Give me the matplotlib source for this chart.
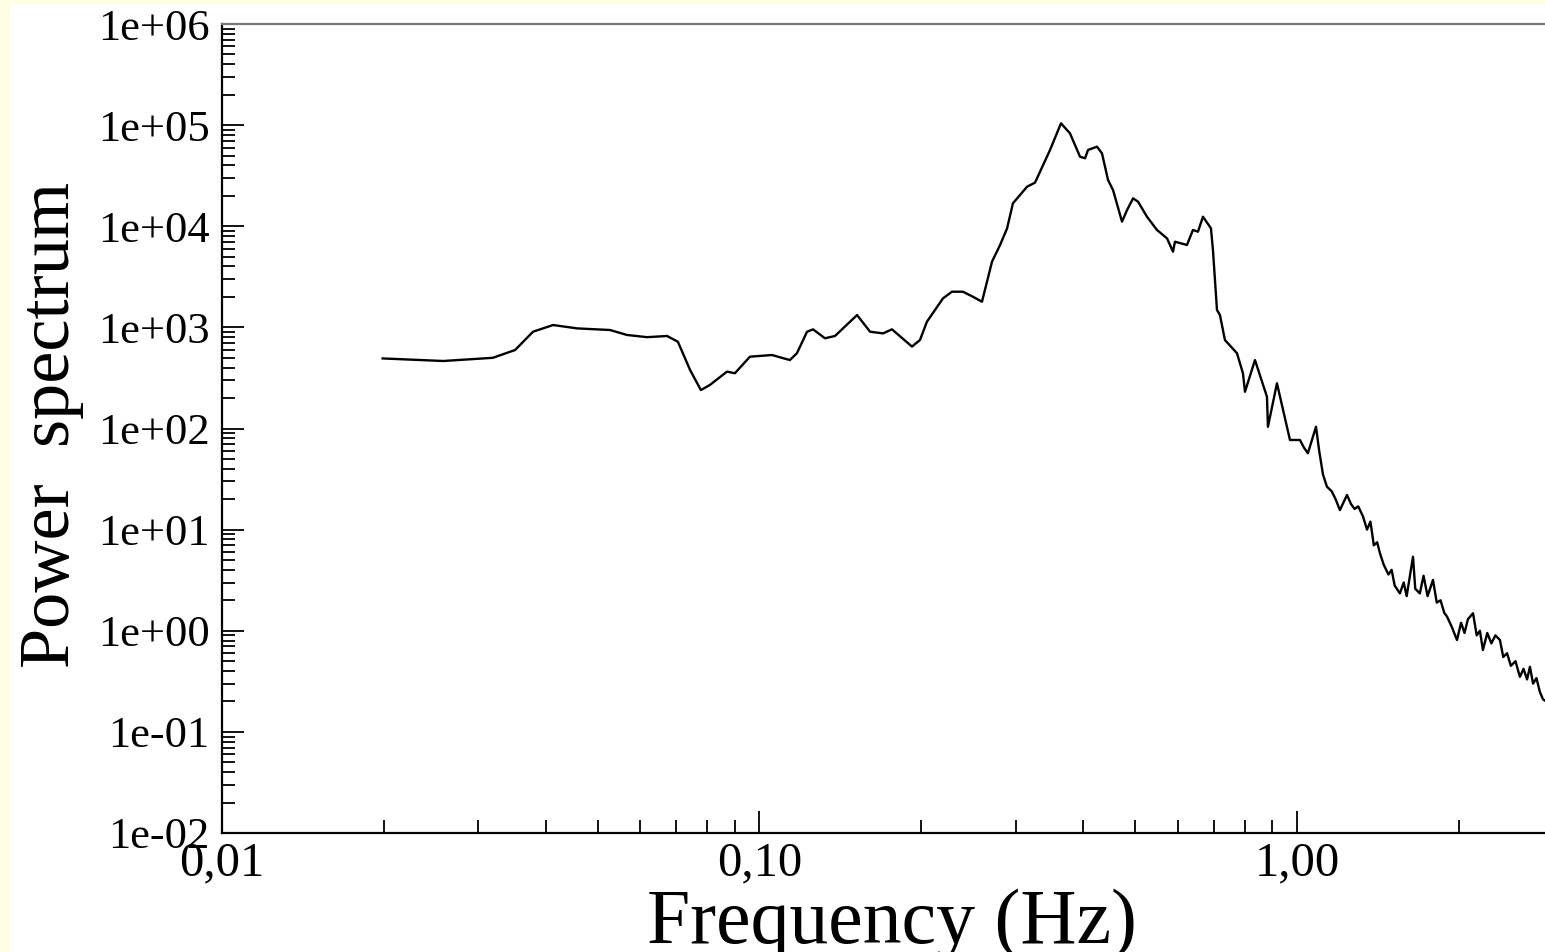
import matplotlib
matplotlib.use("Agg")
import matplotlib.pyplot as plt
from matplotlib.patches import Rectangle
from matplotlib.ticker import LogLocator, FuncFormatter, NullFormatter

plt.rcParams['font.family'] = ['Liberation Serif', 'DejaVu Serif']

# frequency (Hz) and power
freq = [0.0199, 0.0258, 0.0319, 0.0351, 0.0379, 0.0413, 0.0458, 0.0527, 0.0567,
        0.0618, 0.0673, 0.0705, 0.0743, 0.0778, 0.0809, 0.0870, 0.0900, 0.0960,
        0.1055, 0.1139, 0.1174, 0.1226, 0.1258, 0.1324, 0.1382, 0.1519, 0.1606,
        0.1698, 0.1764, 0.1922, 0.1989, 0.2049, 0.2195, 0.2281, 0.2391, 0.2496,
        0.2594, 0.2708, 0.2802, 0.2888, 0.2962, 0.3147, 0.3256, 0.3472, 0.3639,
        0.3782, 0.3948, 0.4034, 0.4086, 0.4246, 0.4338, 0.4452, 0.4548, 0.4726,
        0.4829, 0.4955, 0.5062, 0.5260, 0.5490, 0.5731, 0.5880, 0.5929, 0.6242,
        0.6405, 0.6544, 0.6685, 0.6918, 0.6978, 0.7099, 0.7190, 0.7345, 0.7734,
        0.7934, 0.8004, 0.8354, 0.8794, 0.8831, 0.9179, 0.9705, 1.013, 1.03,
        1.048, 1.085, 1.10, 1.118, 1.137, 1.16, 1.18, 1.202, 1.239, 1.26,
        1.28, 1.30, 1.327, 1.35, 1.37, 1.39, 1.41, 1.427, 1.45, 1.48,
        1.50, 1.52, 1.554, 1.58, 1.60, 1.644, 1.66, 1.693, 1.72, 1.75,
        1.791, 1.82, 1.85, 1.88, 1.902, 1.94, 1.985, 2.02, 2.05, 2.08,
        2.126, 2.16, 2.19, 2.218, 2.26, 2.30, 2.34, 2.386, 2.42, 2.46,
        2.50, 2.55, 2.599, 2.64, 2.68, 2.713, 2.75, 2.79, 2.83, 2.869, 2.95]
power = [493, 465, 500, 597, 906, 1055, 977, 942, 841,
         800, 822, 721, 378, 240, 270, 365, 352, 513,
         533, 475, 555, 906, 956, 780, 822, 1324, 906,
         872, 956, 646, 750, 1138, 1936, 2253, 2253, 2008,
         1794, 4467, 6500, 9500, 16870, 24620, 27000, 56800, 104200,
         82900, 48700, 47000, 56800, 61200, 52500, 28600, 22800, 11100,
         14450, 18880, 17500, 12420, 9190, 7590, 5600, 7030, 6530,
         9190, 8830, 12420, 9550, 5800, 1486, 1324, 750, 555,
         352, 231, 475, 206, 104, 280, 77, 77, 65,
         57, 104, 60, 35, 26.6, 24, 20, 15.6, 22, 18,
         16, 17, 13.5, 10, 12, 7, 7.5, 5.84, 4.5, 3.6,
         4.0, 2.8, 2.34, 3.0, 2.2, 5.4, 2.6, 2.34, 3.5, 2.2,
         3.18, 1.9, 2.0, 1.5, 1.38, 1.1, 0.81, 1.2, 0.95, 1.3,
         1.49, 0.9, 1.0, 0.645, 0.95, 0.75, 0.9, 0.81, 0.55, 0.6,
         0.45, 0.5, 0.35, 0.42, 0.33, 0.44, 0.3, 0.34, 0.25, 0.21, 0.19]

W, H = 1545, 952
fig = plt.figure(figsize=(W / 100, H / 100), dpi=100)
fig.patch.set_facecolor('#fffde2')
fig.add_artist(Rectangle((10 / W, 0), 1, 1 - 4 / H, transform=fig.transFigure,
                         facecolor='white', edgecolor='none', zorder=-1))

ax = fig.add_axes([222 / W, 1 - 833 / H, 1 - 222 / W, (833 - 24) / H])
ax.plot(freq, power, color='black', lw=1.7)

ax.set_xscale('log')
ax.set_yscale('log')
ax.set_xlim(0.01, 2.894)
ax.set_ylim(1e-2, 1e6)

ax.yaxis.set_major_locator(LogLocator(base=10, numticks=20))
ax.yaxis.set_minor_locator(LogLocator(base=10, subs=range(2, 10), numticks=20))
ax.xaxis.set_minor_locator(LogLocator(base=10, subs=range(2, 10), numticks=20))
ax.yaxis.set_major_formatter(FuncFormatter(lambda v, p: format(v, '.0e')))
ax.xaxis.set_major_formatter(FuncFormatter(lambda v, p: f"{v:.2f}".replace('.', ',')))
ax.xaxis.set_minor_formatter(NullFormatter())
ax.yaxis.set_minor_formatter(NullFormatter())

ax.tick_params(which='both', direction='in', top=False, right=False, width=1.3)
ax.tick_params(which='major', length=16)
ax.tick_params(axis='y', which='major', pad=9, labelsize=32)
ax.tick_params(axis='x', which='major', pad=6, labelsize=35)
ax.tick_params(which='minor', length=9.5)

for s in ['left', 'bottom']:
    ax.spines[s].set_linewidth(1.6)
ax.spines['top'].set_color('#777777')
ax.spines['top'].set_linewidth(1.6)
ax.spines['right'].set_visible(False)

ax.set_xlabel('Frequency (Hz)', fontsize=56, va='top')
ax.xaxis.set_label_coords(0.506, -0.068)
ax.set_ylabel('Power  spectrum', fontsize=52, va='bottom')
ax.yaxis.set_label_coords(-0.104, 0.504)

fig.savefig('out.png', dpi=100, facecolor=fig.get_facecolor())
